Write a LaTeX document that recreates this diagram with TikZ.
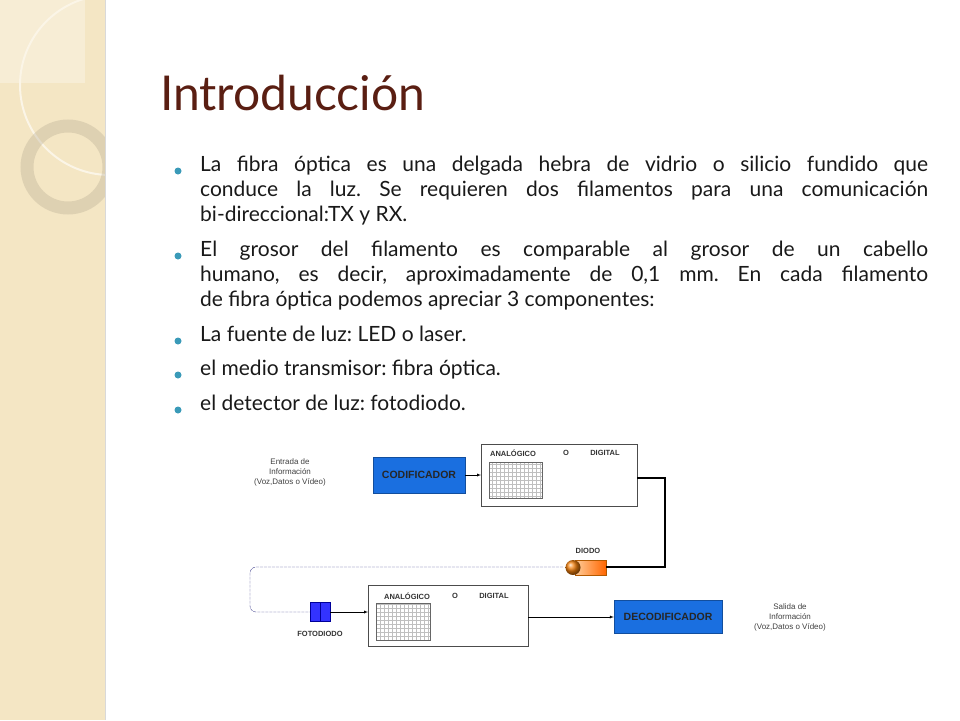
\documentclass[tikz,border=0pt]{standalone}
\usepackage{fontspec}
\setmainfont{Lato}
\setsansfont{Liberation Sans}
\usetikzlibrary{positioning, arrows}
\definecolor{titlered}{HTML}{5A1E12}
\definecolor{beige}{HTML}{F4E6C4}
\definecolor{bulletblue}{HTML}{3A9AB8}
\definecolor{boxblue}{HTML}{1A6FE0}
\definecolor{fiber}{HTML}{3A3A8A}
\frenchspacing
\tikzset{->,>=latex,
bodytext/.style={anchor=north west, inner sep=0pt, text width=728pt, align=justify,
  font=\fontsize{21}{25}\selectfont, text=black!90},
bullet/.style={circle, fill=bulletblue, inner sep=0pt, minimum size=7pt},
codebox/.style={draw=boxblue!70!black, fill=boxblue, font=\sffamily\bfseries\fontsize{10.5}{11}\selectfont,
  text=black!85, inner sep=0pt},
panel/.style={draw=black!70, fill=white, anchor=north west, inner sep=0pt},
small/.style={font=\sffamily\fontsize{8}{10}\selectfont, align=center, text=black!75},
tag/.style={font=\sffamily\bfseries\fontsize{7.5}{8}\selectfont, text=black!80}
}
\newcommand{\grid}[2]{\draw[-, black!25, step=4pt, line width=0.3pt] #1 grid #2; \draw[-, black!60] #1 rectangle #2;}
\begin{document}
\begin{tikzpicture}[x=1pt, y=-1pt]
    \useasboundingbox (0,0) rectangle (960,720);
    % side panel
    \begin{scope}
    \clip (0,0) rectangle (105,720);
    \fill[beige] (0,0) rectangle (105,720);
    \fill[white, opacity=0.3] (0,0) rectangle (85,83);
    \draw[-, white!60!beige, line width=2pt] (110,85) circle (90);
    \draw[-, beige!75!black, line width=13pt, opacity=0.35] (68,167) circle (41);
    \end{scope}
    \draw[-, black!15, line width=1pt] (105,0) -- (105,720);
    % title and text
    \node[anchor=base west, inner sep=0pt, text=titlered, font=\fontsize{48}{50}\selectfont] (title) at (160,110) {Introducción};
    \node[bodytext] (p1) at (200,156) {La fibra óptica es una delgada hebra de vidrio o silicio fundido que\linebreak conduce la luz. Se requieren dos filamentos para una comunicación\linebreak bi-direccional:TX y RX.};
    \node[bodytext] (p2) at (200,241) {El grosor del filamento es comparable al grosor de un cabello\linebreak humano, es decir, aproximadamente de 0,1 mm. En cada filamento\linebreak de fibra óptica podemos apreciar 3 componentes:};
    \node[bodytext] (p3) at (200,326) {La fuente de luz: LED o laser.};
    \node[bodytext] (p4) at (200,360) {el medio transmisor: fibra óptica.};
    \node[bodytext] (p5) at (200,395) {el detector de luz: fotodiodo.};
    \foreach \y in {171,256,341,375,410} \node[bullet] at (178,\y) {};
    % diagram
    \node[small] (entrada) at (290,472) {Entrada de\\Información\\(Voz,Datos o Vídeo)};
    \node[codebox, minimum width=92pt, minimum height=36pt] (cod) at (419,475) {CODIFICADOR};
    \node[panel, minimum width=156pt, minimum height=62pt] (top) at (481,444) {};
    \grid{(489,462)}{(542,498)}
    \node[tag] at (513,453) {ANALÓGICO};
    \node[tag] at (566,453) {O};
    \node[tag] at (605,453) {DIGITAL};
    \draw (cod.east) -- (top.west |- cod.east);
    % diode
    \shade[left color=orange!40, right color=orange!80!red, draw=orange!70!black] (575,560) rectangle (606,575);
    \shade[ball color=orange!80!brown] (573,567.5) circle (7.5);
    \coordinate (diodo) at (606,567);
    \node[tag] (diodolbl) at (588,551) {DIODO};
    \draw[-, line width=2.2pt] (637,478) -- (665,478) -- (665,567) -- (diodo);
    % fibre
    \coordinate (fib) at (563,567);
    \node[draw=blue!60!black, fill=blue!80, inner sep=0pt, minimum width=20pt, minimum height=19pt] (foto) at (320,612) {};
    \draw[-, blue!60!black] (foto.north) -- (foto.south);
    \node[tag] (fotolbl) at (320,634) {FOTODIODO};
    \draw[-, fiber, dash pattern=on 3pt off 1pt, rounded corners=6pt] (fib) -- (250,567) -- (250,612) -- (foto.west);
    % receiver
    \node[panel, minimum width=160pt, minimum height=61pt] (bot) at (368,585) {};
    \grid{(376,603)}{(430,640)}
    \node[tag] at (407,596) {ANALÓGICO};
    \node[tag] at (455,596) {O};
    \node[tag] at (494,596) {DIGITAL};
    \draw (foto.east) -- (bot.west |- foto.east);
    \node[codebox, minimum width=108pt, minimum height=33pt] (dec) at (668,617) {DECODIFICADOR};
    \draw (bot.east |- dec.west) -- (dec.west);
    \node[small] (salida) at (790,617) {Salida de\\Información\\(Voz,Datos o Vídeo)};
\end{tikzpicture}
\end{document}
